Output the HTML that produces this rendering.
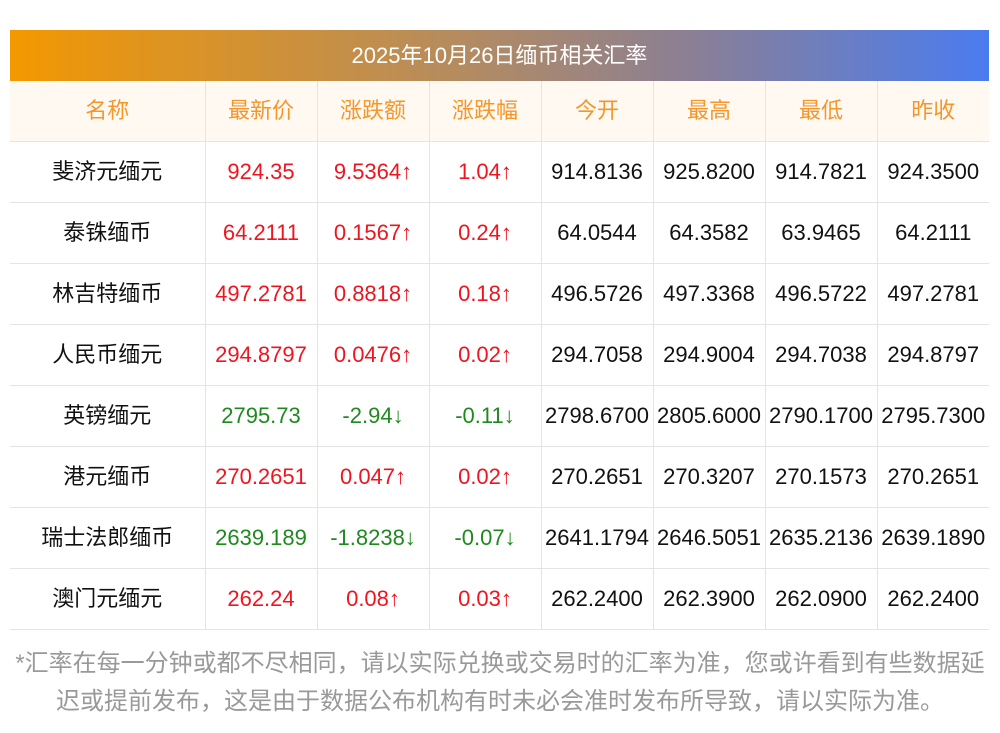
<!DOCTYPE html>
<html><head><meta charset="utf-8"><style>
body{margin:0;width:1000px;height:733px;background:#fff;font-family:"Liberation Sans","Noto Sans CJK SC",sans-serif;overflow:hidden;position:relative}
.title{position:absolute;left:10px;top:30px;width:979px;height:51px;background:linear-gradient(90deg,#f39800,#b68c5e 45%,#8a7f96 70%,#4a7cf0);color:#fff;font-size:22px;line-height:51px;text-align:center}
table{position:absolute;left:10px;top:81px;border-collapse:collapse;table-layout:fixed;width:979px}
td{height:60px;border-bottom:1px solid #e3e3ea;border-left:1px solid #e3e3ea;text-align:center;font-size:22px;line-height:26px;color:#111;padding:0;white-space:nowrap}
td:first-child{border-left:none}
tr.h td{background:#fff9f2;color:#f5962a;font-size:22px}
.r{color:#f0141e}.g{color:#1e8a1e}
.foot{position:absolute;left:0;top:645px;width:1000px;text-align:center;color:#999;font-size:24px;line-height:38px;white-space:nowrap}
</style></head><body>
<div class="title">2025年10月26日缅币相关汇率</div>
<table>
<colgroup><col style="width:195px"><col style="width:112px"><col style="width:112px"><col style="width:112px"><col style="width:112px"><col style="width:112px"><col style="width:112px"><col style="width:112px"></colgroup>
<tr class="h"><td>名称</td><td>最新价</td><td>涨跌额</td><td>涨跌幅</td><td>今开</td><td>最高</td><td>最低</td><td>昨收</td></tr>
<tr><td>斐济元缅元</td><td class="r">924.35</td><td class="r">9.5364↑</td><td class="r">1.04↑</td><td>914.8136</td><td>925.8200</td><td>914.7821</td><td>924.3500</td></tr>
<tr><td>泰铢缅币</td><td class="r">64.2111</td><td class="r">0.1567↑</td><td class="r">0.24↑</td><td>64.0544</td><td>64.3582</td><td>63.9465</td><td>64.2111</td></tr>
<tr><td>林吉特缅币</td><td class="r">497.2781</td><td class="r">0.8818↑</td><td class="r">0.18↑</td><td>496.5726</td><td>497.3368</td><td>496.5722</td><td>497.2781</td></tr>
<tr><td>人民币缅元</td><td class="r">294.8797</td><td class="r">0.0476↑</td><td class="r">0.02↑</td><td>294.7058</td><td>294.9004</td><td>294.7038</td><td>294.8797</td></tr>
<tr><td>英镑缅元</td><td class="g">2795.73</td><td class="g">-2.94↓</td><td class="g">-0.11↓</td><td>2798.6700</td><td>2805.6000</td><td>2790.1700</td><td>2795.7300</td></tr>
<tr><td>港元缅币</td><td class="r">270.2651</td><td class="r">0.047↑</td><td class="r">0.02↑</td><td>270.2651</td><td>270.3207</td><td>270.1573</td><td>270.2651</td></tr>
<tr><td>瑞士法郎缅币</td><td class="g">2639.189</td><td class="g">-1.8238↓</td><td class="g">-0.07↓</td><td>2641.1794</td><td>2646.5051</td><td>2635.2136</td><td>2639.1890</td></tr>
<tr><td>澳门元缅元</td><td class="r">262.24</td><td class="r">0.08↑</td><td class="r">0.03↑</td><td>262.2400</td><td>262.3900</td><td>262.0900</td><td>262.2400</td></tr>
</table>
<div class="foot">*汇率在每一分钟或都不尽相同，请以实际兑换或交易时的汇率为准，您或许看到有些数据延<br>迟或提前发布，这是由于数据公布机构有时未必会准时发布所导致，请以实际为准。</div>
</body></html>
